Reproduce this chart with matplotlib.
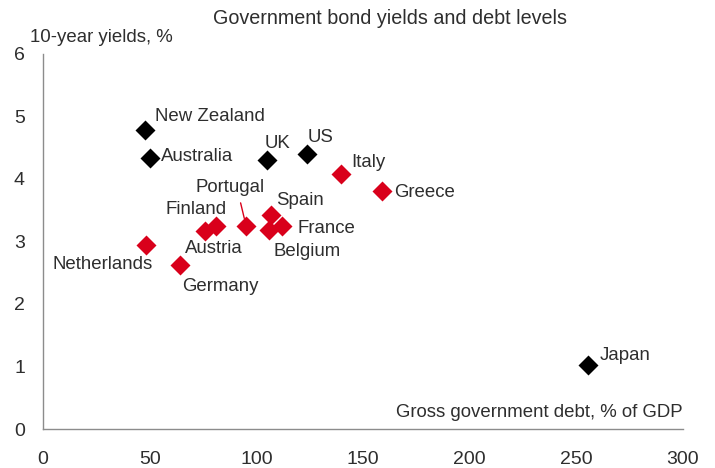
import matplotlib
matplotlib.use('Agg')
import matplotlib.pyplot as plt

plt.rcParams['font.family'] = ['Liberation Sans', 'DejaVu Sans']

# gross government debt, % of GDP / 10-year yields, %
black_names = ['New Zealand', 'Australia', 'UK', 'US', 'Japan']
black_debt = [48.0, 50.3, 104.8, 123.6, 255.3]
black_yield = [4.78, 4.34, 4.30, 4.40, 1.02]

red_names = ['Italy', 'Greece', 'Portugal', 'Spain', 'France', 'Belgium',
             'Finland', 'Austria', 'Netherlands', 'Germany']
red_debt = [139.6, 158.9, 95.2, 107.0, 112.2, 105.9, 80.9, 75.8, 48.3, 64.1]
red_yield = [4.08, 3.81, 3.25, 3.42, 3.24, 3.18, 3.25, 3.17, 2.94, 2.62]

x_ticks = [0, 50, 100, 150, 200, 250, 300]
y_ticks = [0, 1, 2, 3, 4, 5, 6]

red = '#d9001b'
txt = '#2e2e2e'
fs = 13.4

# label offsets in pixels (dx, dy, ha)
offsets = {
    'New Zealand': (10, 14, 'left'),
    'Australia': (11, 1, 'left'),
    'UK': (-2, 17, 'left'),
    'US': (1, 16, 'left'),
    'Japan': (12, 10, 'left'),
    'Italy': (10, 11, 'left'),
    'Greece': (12, -2, 'left'),
    'Portugal': (-16, 38, 'center'),
    'Spain': (5, 15, 'left'),
    'France': (15, -2, 'left'),
    'Belgium': (5, -21, 'left'),
    'Finland': (-50, 16, 'left'),
    'Austria': (-20, -18, 'left'),
    'Netherlands': (-94, -19, 'left'),
    'Germany': (2, -21, 'left'),
}

fig = plt.figure(figsize=(7.15, 4.68), dpi=100)
ax = fig.add_axes([43 / 715, 1 - 429 / 468, 640 / 715, 375 / 468])

ax.plot(black_debt, black_yield, 'D', color='black', ms=10.2, mec='none', clip_on=False)
ax.plot(red_debt, red_yield, 'D', color=red, ms=10.2, mec='none', clip_on=False)

for names, xs, ys in [(black_names, black_debt, black_yield), (red_names, red_debt, red_yield)]:
    for n, x, y in zip(names, xs, ys):
        dx, dy, ha = offsets[n]
        ax.annotate(n, (x, y), xytext=(dx, dy), textcoords='offset pixels',
                    ha=ha, va='center', fontsize=fs, color=txt)

# leader line for Portugal
i = red_names.index('Portugal')
ax.annotate('', (red_debt[i], red_yield[i]), xytext=(-5.5, 23), textcoords='offset pixels',
            arrowprops=dict(arrowstyle='-', color=red, lw=1, shrinkA=0, shrinkB=5.5))

ax.set_xlim(0, 300)
ax.set_ylim(0, 6)
ax.set_xticks(x_ticks)
ax.set_yticks(y_ticks)
ax.tick_params(length=0, labelsize=14, colors=txt)
ax.tick_params(axis='x', pad=15.5)
ax.tick_params(axis='y', pad=13)
for s in ['top', 'right']:
    ax.spines[s].set_visible(False)
for s in ['left', 'bottom']:
    ax.spines[s].set_color('#8c8c8c')
    ax.spines[s].set_linewidth(1)

fig.text(390 / 715, 1 - 18 / 468, 'Government bond yields and debt levels',
         ha='center', va='center', fontsize=14.2, color=txt)
fig.text(30 / 715, 1 - 38 / 468, '10-year yields, %', ha='left', va='center', fontsize=fs, color=txt)
ax.text(300, 0.26, 'Gross government debt, % of GDP', ha='right', va='center', fontsize=fs, color=txt)

fig.savefig('out.png', dpi=100)
